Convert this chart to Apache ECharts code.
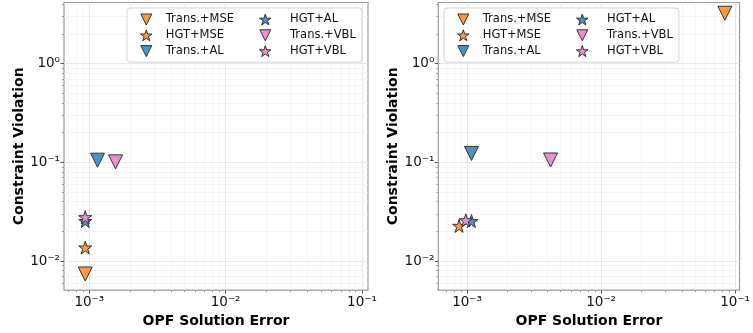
<!DOCTYPE html>
<html>
<head>
<meta charset="utf-8">
<script src="https://cdn.jsdelivr.net/npm/echarts@6/dist/echarts.min.js"></script>
<style>html,body{margin:0;padding:0;background:#fff;}#c{width:753px;height:333px;}</style>
</head>
<body>
<div id="c"></div>
<script>
// ---- data ----
const categories = ['Trans.+MSE', 'HGT+MSE', 'Trans.+AL', 'HGT+AL', 'Trans.+VBL', 'HGT+VBL'];
const leftX  = [9.35e-4, 9.35e-4, 1.15e-3, 9.35e-4, 1.56e-3, 9.35e-4];
const leftY  = [0.0074, 0.0137, 0.105, 0.0254, 0.101, 0.0278];
const rightX = [0.0838, 8.73e-4, 1.08e-3, 1.08e-3, 4.2e-3, 9.8e-4];
const rightY = [3.23, 0.0227, 0.123, 0.0254, 0.1055, 0.0259];
const xTickValues = [1e-3, 1e-2, 1e-1];
const xTickLabels = ['10\u207B\u00B3', '10\u207B\u00B2', '10\u207B\u00B9'];
const yTickValues = [1e-2, 1e-1, 1];
const yTickLabels = ['10\u207B\u00B2', '10\u207B\u00B9', '10\u2070'];
const xMinorValues = [7e-4, 8e-4, 9e-4, 2e-3, 3e-3, 4e-3, 5e-3, 6e-3, 7e-3, 8e-3, 9e-3,
                      2e-2, 3e-2, 4e-2, 5e-2, 6e-2, 7e-2, 8e-2, 9e-2];
const yMinorValues = [6e-3, 7e-3, 8e-3, 9e-3, 2e-2, 3e-2, 4e-2, 5e-2, 6e-2, 7e-2, 8e-2, 9e-2,
                      0.2, 0.3, 0.4, 0.5, 0.6, 0.7, 0.8, 0.9, 2, 3, 4];
const xRangeLeft = [6.53e-4, 0.1107];
const xRangeRight = [6.11e-4, 0.1079];
const yRange = [5.08e-3, 4.15];
const xName = 'OPF Solution Error';
const yName = 'Constraint Violation';

// ---- styles ----
const FONT = 'DejaVu Sans';
const TRI = 'path://M-5.5,-5.5 L5.5,-5.5 L0,5.5 Z';
const STAR = 'path://M0,-5.5 L1.235,-1.7 L5.231,-1.7 L1.998,0.649 L3.233,4.45 L0,2.101 L-3.233,4.45 L-1.998,0.649 L-5.231,-1.7 L-1.235,-1.7 Z';
const shapes = [TRI, STAR, TRI, STAR, TRI, STAR];
const colors = ['#ff993e', '#ff993e', '#4c92c3', '#4c92c3', '#e992ce', '#e992ce'];
const sizes = [14, 13, 14, 13, 14, 13];

function lookup(vals, labels) {
  return function (v) {
    for (let i = 0; i < vals.length; i++) {
      if (Math.abs(Math.log10(v) - Math.log10(vals[i])) < 1e-6) return labels[i];
    }
    return '';
  };
}

const grids = [
  { left: 64, top: 2.5, width: 304, height: 290 },
  { left: 438.3, top: 2.5, width: 304.4, height: 290 }
];
const xRanges = [xRangeLeft, xRangeRight];
const datasets = [[leftX, leftY], [rightX, rightY]];
const legendLefts = [127, 444];

const option = {
  animation: false,
  backgroundColor: '#fff',
  grid: grids.map(g => Object.assign({ show: true, borderColor: '#999', borderWidth: 1.2, backgroundColor: 'transparent' }, g)),
  xAxis: [],
  yAxis: [],
  legend: [],
  series: []
};

for (let gi = 0; gi < 2; gi++) {
  option.xAxis.push({
    type: 'log', gridIndex: gi, position: 'bottom', min: xRanges[gi][0], max: xRanges[gi][1],
    axisLine: { show: false },
    axisTick: { show: true, length: 3.5, lineStyle: { color: '#555', width: 1 }, customValues: xTickValues },
    axisLabel: { customValues: xTickValues, formatter: lookup(xTickValues, xTickLabels), margin: 5,
                 fontFamily: FONT, fontSize: 13.5, color: '#111' },
    splitLine: { show: true, lineStyle: { color: '#e2e2e2', width: 0.8 } },
    name: xName, nameLocation: 'middle', nameGap: 18,
    nameTextStyle: { fontFamily: FONT, fontWeight: 'bold', fontSize: 14, color: '#000' }
  });
  option.xAxis.push({
    type: 'log', gridIndex: gi, position: 'bottom', min: xRanges[gi][0], max: xRanges[gi][1],
    axisLine: { show: false },
    axisTick: { show: true, length: 2, lineStyle: { color: '#777', width: 0.7 }, customValues: xMinorValues },
    axisLabel: { show: false },
    splitLine: { show: true, lineStyle: { color: '#f1f1f1', width: 0.7 } }
  });
  option.yAxis.push({
    type: 'log', gridIndex: gi, position: 'left', min: yRange[0], max: yRange[1],
    axisLine: { show: false },
    axisTick: { show: true, length: 3.5, lineStyle: { color: '#555', width: 1 }, customValues: yTickValues },
    axisLabel: { customValues: yTickValues, formatter: lookup(yTickValues, yTickLabels), margin: 4,
                 fontFamily: FONT, fontSize: 13.5, color: '#111' },
    splitLine: { show: true, lineStyle: { color: '#e2e2e2', width: 0.8 } },
    name: yName, nameLocation: 'middle', nameGap: 38,
    nameTextStyle: { fontFamily: FONT, fontWeight: 'bold', fontSize: 14, color: '#000' }
  });
  option.yAxis.push({
    type: 'log', gridIndex: gi, position: 'left', min: yRange[0], max: yRange[1],
    axisLine: { show: false },
    axisTick: { show: true, length: 2, lineStyle: { color: '#777', width: 0.7 }, customValues: yMinorValues },
    axisLabel: { show: false },
    splitLine: { show: true, lineStyle: { color: '#f1f1f1', width: 0.7 } }
  });

  const xs = datasets[gi][0], ys = datasets[gi][1];
  categories.forEach((name, i) => {
    option.series.push({
      type: 'scatter', name: name, xAxisIndex: gi * 2, yAxisIndex: gi * 2,
      symbol: shapes[i], symbolSize: sizes[i], z: 3 + i,
      itemStyle: { color: colors[i], borderColor: '#333', borderWidth: 1, opacity: 1 },
      emphasis: { disabled: true },
      data: [[xs[i], ys[i]]]
    });
  });

  const B = legendLefts[gi];
  const textStyle = { fontFamily: FONT, fontSize: 11.5, lineHeight: 12, color: '#111' };
  const legendItemStyle = { borderWidth: 1, borderColor: '#333' };
  option.legend.push({
    left: B, top: 8, orient: 'vertical', data: categories.slice(0, 3),
    itemWidth: 29, itemHeight: 11, itemGap: 3.8, padding: [5.5, 128, 5, 13],
    backgroundColor: 'rgba(255,255,255,0.85)', borderColor: '#d4d4d4', borderWidth: 1, borderRadius: 3,
    itemStyle: legendItemStyle,
    textStyle: textStyle, selectedMode: false, z: 10
  });
  option.legend.push({
    left: B + 132, top: 13.5, orient: 'vertical', data: categories.slice(3, 6),
    itemWidth: 39.5, itemHeight: 11, itemGap: 3.8, padding: 0,
    itemStyle: legendItemStyle,
    textStyle: textStyle, selectedMode: false, z: 11
  });
}

const chart = echarts.init(document.getElementById('c'), null, { renderer: 'canvas' });
chart.setOption(option);
</script>
</body>
</html>
